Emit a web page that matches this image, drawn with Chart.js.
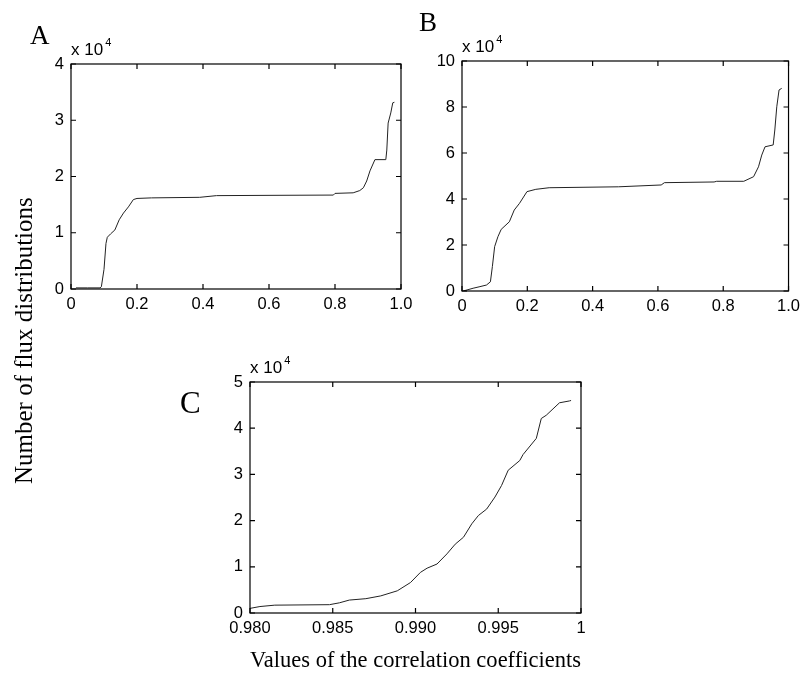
<!DOCTYPE html>
<html>
<head>
<meta charset="utf-8">
<script src="https://cdn.jsdelivr.net/npm/chart.js@4.4.1/dist/chart.umd.min.js"></script>
<style>
body { margin: 0; background: #fff; }
#wrap { position: relative; width: 806px; height: 680px; }
#wrap canvas { position: absolute; left: 0; top: 0; }
</style>
</head>
<body>
<div id="wrap">
  <canvas id="chartA" width="806" height="680"></canvas>
  <canvas id="chartB" width="806" height="680"></canvas>
  <canvas id="chartC" width="806" height="680"></canvas>
</div>
<script>
// panel A
var coefA = [0.015, 0.05, 0.088, 0.092, 0.100, 0.106, 0.110, 0.120, 0.133, 0.146, 0.159, 0.174, 0.189, 0.200, 0.244, 0.390, 0.441, 0.600, 0.795, 0.800, 0.855, 0.875, 0.886, 0.896, 0.906, 0.921, 0.954, 0.957, 0.961, 0.969, 0.975, 0.980];
var fluxA = [200, 200, 200, 400, 3500, 8100, 9200, 9800, 10500, 12300, 13500, 14600, 15900, 16100, 16200, 16300, 16600, 16650, 16700, 17000, 17100, 17500, 18000, 19200, 21000, 23000, 23000, 24700, 29500, 31300, 33100, 33200];
var xTicksA = [0, 0.2, 0.4, 0.6, 0.8, 1.0];
var xLabelsA = ['0', '0.2', '0.4', '0.6', '0.8', '1.0'];
var yTicksA = [0, 10000, 20000, 30000, 40000];
var yLabelsA = ['0', '1', '2', '3', '4'];

// panel B
var coefB = [0.004, 0.034, 0.055, 0.075, 0.087, 0.093, 0.100, 0.110, 0.120, 0.145, 0.160, 0.176, 0.199, 0.226, 0.267, 0.479, 0.610, 0.620, 0.772, 0.780, 0.863, 0.893, 0.908, 0.918, 0.928, 0.953, 0.958, 0.964, 0.971, 0.979];
var fluxB = [0, 1200, 1900, 2600, 4000, 10600, 19300, 23600, 26800, 30100, 35200, 38100, 43200, 44200, 44900, 45300, 46100, 47100, 47400, 47700, 47700, 49700, 54000, 59100, 62700, 63500, 70000, 80100, 87400, 88100];
var xTicksB = [0, 0.2, 0.4, 0.6, 0.8, 1.0];
var xLabelsB = ['0', '0.2', '0.4', '0.6', '0.8', '1.0'];
var yTicksB = [0, 20000, 40000, 60000, 80000, 100000];
var yLabelsB = ['0', '2', '4', '6', '8', '10'];

// panel C
var coefC = [0.9800, 0.9806, 0.9815, 0.9848, 0.9854, 0.9860, 0.9870, 0.9879, 0.9889, 0.9897, 0.9903, 0.9907, 0.9913, 0.9919, 0.9924, 0.9929, 0.9934, 0.9938, 0.9943, 0.9948, 0.9952, 0.9956, 0.9963, 0.9965, 0.9973, 0.9976, 0.9979, 0.9987, 0.9993, 0.9994];
var fluxC = [1000, 1400, 1700, 1800, 2200, 2800, 3100, 3700, 4800, 6600, 8800, 9700, 10600, 12800, 14900, 16400, 19300, 21100, 22500, 25100, 27600, 30900, 33000, 34300, 37800, 42100, 42800, 45500, 45900, 46000];
var xTicksC = [0.980, 0.985, 0.990, 0.995, 1];
var xLabelsC = ['0.980', '0.985', '0.990', '0.995', '1'];
var yTicksC = [0, 10000, 20000, 30000, 40000, 50000];
var yLabelsC = ['0', '1', '2', '3', '4', '5'];

var sansFont = '"Liberation Sans", Arial, sans-serif';
var serifFont = '"Liberation Serif", "Times New Roman", serif';

// box, inside ticks, panel letter, "x 10^4"
var frame = {
	id: 'frame',
	afterDraw: function(chart, args, opts) {
		var ctx = chart.ctx;
		var a = chart.chartArea;
		var sx = chart.scales.x, sy = chart.scales.y;
		ctx.save();
		ctx.strokeStyle = '#000';
		ctx.lineWidth = 1.2;
		ctx.strokeRect(a.left, a.top, a.right - a.left, a.bottom - a.top);
		ctx.beginPath();
		sx.ticks.forEach(function(t) {
			var px = sx.getPixelForValue(t.value);
			ctx.moveTo(px, a.bottom); ctx.lineTo(px, a.bottom - 5);
			ctx.moveTo(px, a.top); ctx.lineTo(px, a.top + 5);
		});
		sy.ticks.forEach(function(t) {
			var py = sy.getPixelForValue(t.value);
			ctx.moveTo(a.left, py); ctx.lineTo(a.left + 5, py);
			ctx.moveTo(a.right, py); ctx.lineTo(a.right - 5, py);
		});
		ctx.stroke();

		ctx.fillStyle = '#000';
		ctx.textBaseline = 'alphabetic';
		ctx.font = opts.letterSize + 'px ' + serifFont;
		ctx.fillText(opts.letter, opts.letterX, opts.letterY);

		ctx.font = '17px ' + sansFont;
		ctx.fillText('x 10', a.left, a.top - 9);
		var w = ctx.measureText('x 10').width;
		ctx.font = '11px ' + sansFont;
		ctx.fillText('4', a.left + w + 2, a.top - 18);

		if (opts.yTitle) {
			ctx.translate(opts.yTitleX, opts.yTitleY);
			ctx.rotate(-Math.PI / 2);
			ctx.font = '25px ' + serifFont;
			ctx.textAlign = 'left';
			ctx.fillText(opts.yTitle, 0, 0);
		}
		ctx.restore();
	}
};

function buildPanel(id, xs, ys, xTicks, xLabels, yTicks, yLabels, pad, xHeight, frameOpts, xTitle) {
	var pts = [];
	for (var i = 0; i < xs.length; i++) {
		pts.push({x: xs[i], y: ys[i]});
	}
	return new Chart(document.getElementById(id), {
		type: 'scatter',
		data: {
			datasets: [{
				data: pts,
				showLine: true,
				borderColor: '#222',
				borderWidth: 1,
				pointRadius: 0,
				tension: 0
			}]
		},
		options: {
			responsive: false,
			animation: false,
			layout: { padding: pad },
			plugins: {
				legend: { display: false },
				tooltip: { enabled: false },
				frame: frameOpts
			},
			scales: {
				x: {
					type: 'linear',
					min: xTicks[0],
					max: xTicks[xTicks.length - 1],
					afterBuildTicks: function(s) { s.ticks = xTicks.map(function(v) { return {value: v}; }); },
					afterFit: function(s) { s.height = xHeight; },
					ticks: {
						autoSkip: false, maxRotation: 0, padding: 6, color: '#000',
						font: { family: sansFont, size: 16.5 },
						callback: function(v, i) { return xLabels[i]; }
					},
					grid: { display: false, drawTicks: false },
					border: { display: false },
					title: xTitle ? {
						display: true, text: xTitle, color: '#000',
						font: { family: serifFont, size: 23.5 },
						padding: { top: 0, bottom: 0 }
					} : { display: false }
				},
				y: {
					type: 'linear',
					min: yTicks[0],
					max: yTicks[yTicks.length - 1],
					afterBuildTicks: function(s) { s.ticks = yTicks.map(function(v) { return {value: v}; }); },
					afterFit: function(s) { s.width = 50; },
					ticks: {
						padding: 7, color: '#000',
						font: { family: sansFont, size: 16.5 },
						callback: function(v, i) { return yLabels[i]; }
					},
					grid: { display: false, drawTicks: false },
					border: { display: false }
				}
			}
		},
		plugins: [frame]
	});
}

// chart areas: A 71-401 x 64-289, B 462-792 x 61-291, C 250-581 x 382-613
buildPanel('chartA', coefA, fluxA, xTicksA, xLabelsA, yTicksA, yLabelsA,
	{left: 21, top: 64, right: 405, bottom: 351}, 40,
	{letter: 'A', letterSize: 27, letterX: 30, letterY: 44});

buildPanel('chartB', coefB, fluxB, xTicksB, xLabelsB, yTicksB, yLabelsB,
	{left: 412, top: 61, right: 14, bottom: 349}, 40,
	{letter: 'B', letterSize: 27, letterX: 419, letterY: 31});

buildPanel('chartC', coefC, fluxC, xTicksC, xLabelsC, yTicksC, yLabelsC,
	{left: 200, top: 382, right: 225, bottom: 5}, 62,
	{letter: 'C', letterSize: 31, letterX: 180, letterY: 413,
	 yTitle: 'Number of flux distributions', yTitleX: 32, yTitleY: 484},
	'Values of the correlation coefficients');
</script>
</body>
</html>
